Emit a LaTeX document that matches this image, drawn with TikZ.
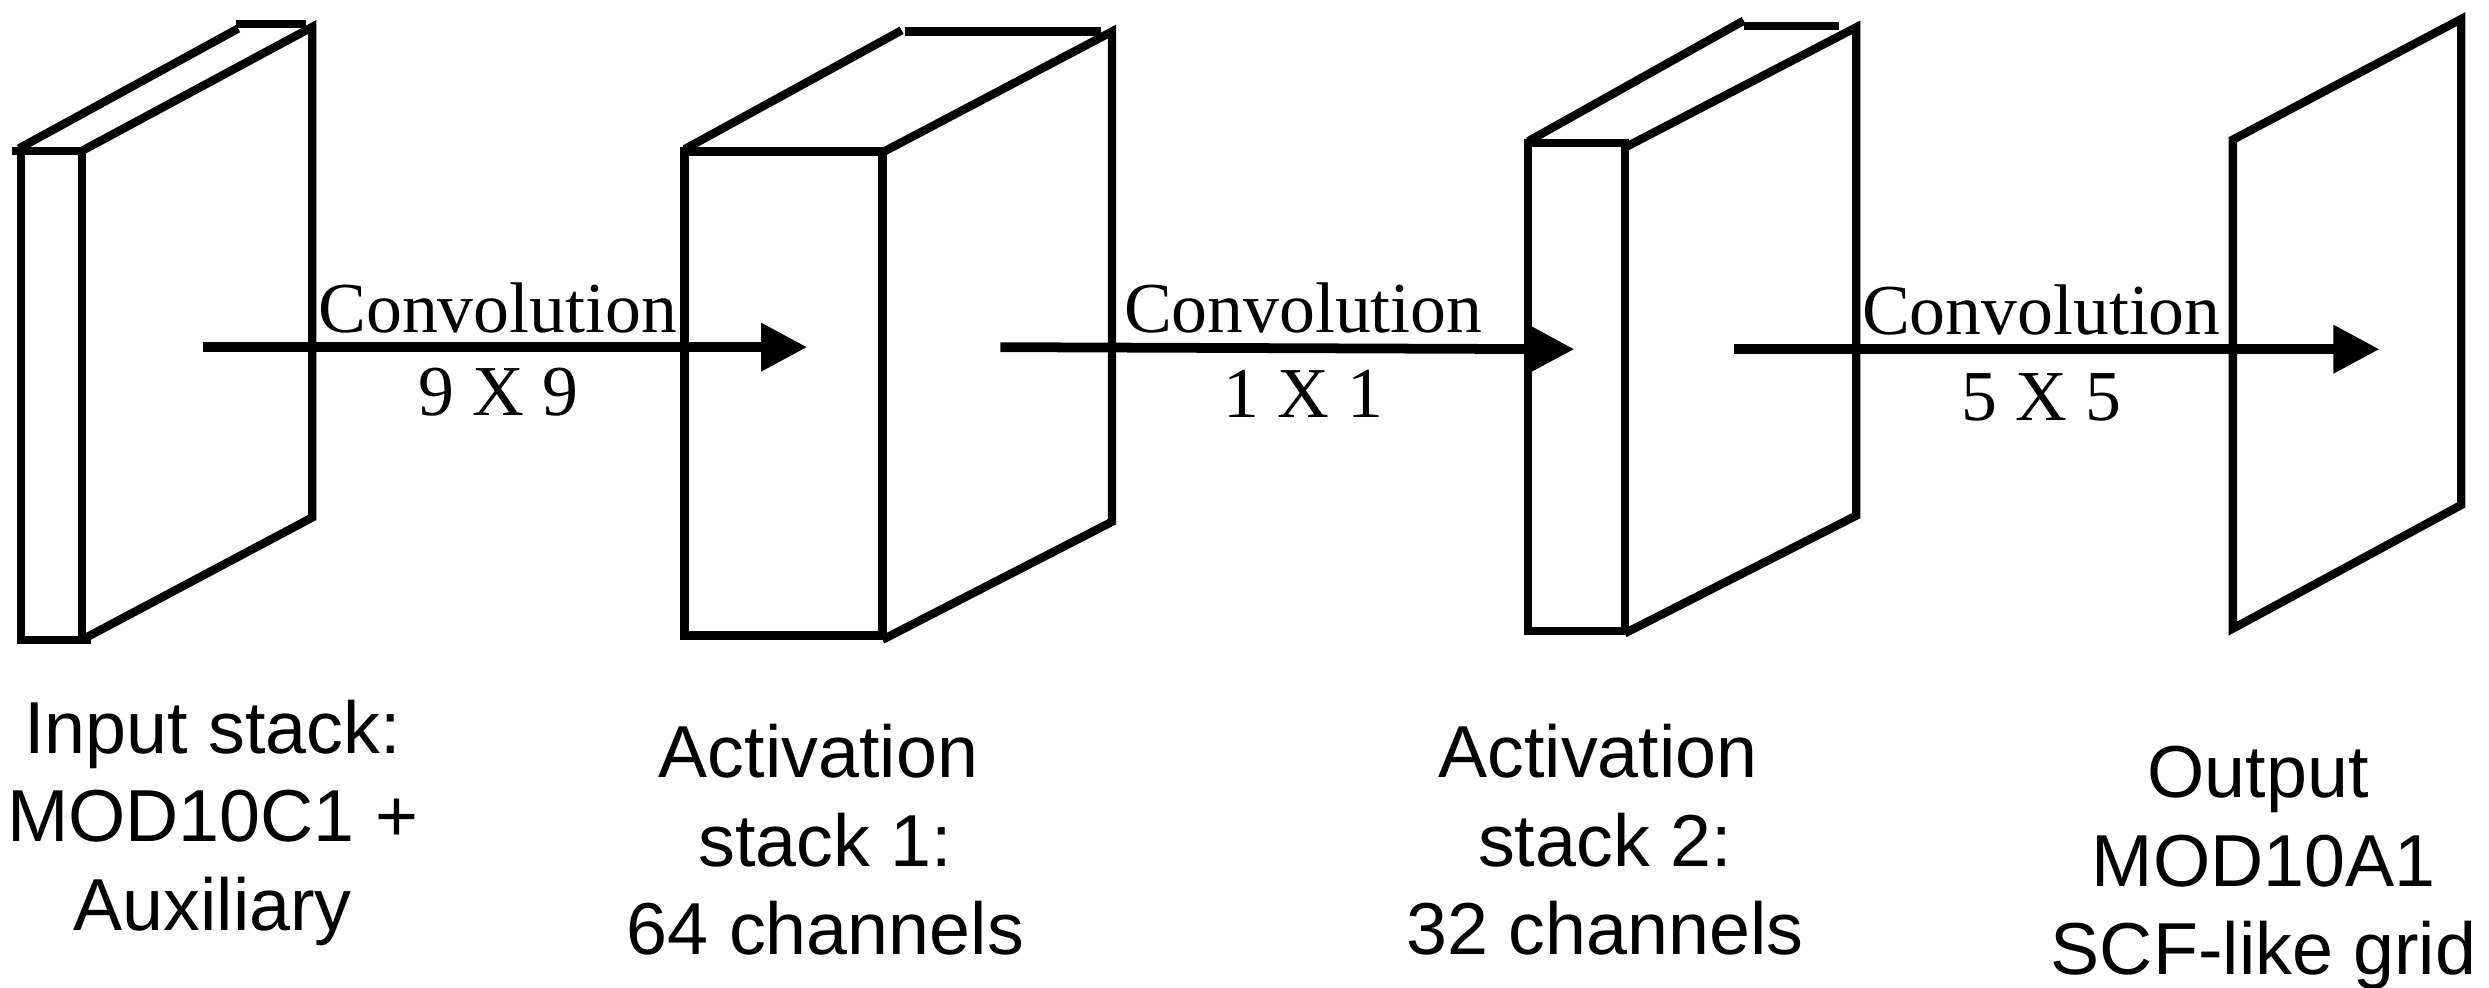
\documentclass[tikz,border=0pt]{standalone}
\usepackage{fontspec}
\setmainfont{Liberation Serif}
\setsansfont{Liberation Sans}
\usetikzlibrary{arrows.meta}
\begin{document}
\begin{tikzpicture}[x=0.02cm,y=-0.02cm,
  boxline/.style={line width=3pt, line join=miter},
  convarrow/.style={line width=3.5pt, -{Triangle[length=0.58cm,width=0.58cm]}},
  convlabel/.style={font=\fontsize{25.7pt}{30pt}\selectfont\rmfamily, inner sep=0pt, anchor=base},
  stacklabel/.style={font=\fontsize{26.4pt}{31.75pt}\selectfont\sffamily, inner sep=0pt, anchor=base, align=center}]
\useasboundingbox (0,0) rectangle (1568,622);

% ---- Box 1: input stack ----
\draw[boxline] (13.3,95) rectangle (51.7,403);
\draw[boxline] (7.3,95) -- (13.3,95);
\draw[boxline] (51.7,403) -- (57.4,403);
\draw[boxline] (12,93.5) -- (150,18);
\draw[boxline] (148.4,15.1) -- (192.7,15.1);
\draw[boxline] (51.7,95) -- (196.7,17) -- (196.7,326) -- (51.7,403);

% ---- Box 2: activation stack 1 ----
\draw[boxline] (431.3,95.4) rectangle (555.9,400.3);
\draw[boxline] (431.3,94) -- (568,19.1);
\draw[boxline] (570,19.9) -- (693.3,19.9);
\draw[boxline] (555.9,96) -- (700.5,19.9) -- (700.5,328.7) -- (555.9,403);

% ---- Box 3: activation stack 2 ----
\draw[boxline] (962.7,90.1) rectangle (1023.5,397.7);
\draw[boxline] (962.7,89) -- (1098.5,13);
\draw[boxline] (1098.5,16.4) -- (1158.5,16.4);
\draw[boxline] (1023.5,93) -- (1169.4,17.2) -- (1169.4,324.8) -- (1023.5,399);

% ---- Output plane ----
\draw[boxline] (1406.6,88) -- (1550.5,12) -- (1550.5,318.1) -- (1406.6,396) -- cycle;

% ---- Arrow end points ----
\coordinate (a1s) at (127.7,218.7);
\coordinate (a1e) at (508.5,218.7);
\coordinate (a2s) at (630.2,218.7);
\coordinate (a2e) at (991.8,220);
\coordinate (a3s) at (1092.4,220);
\coordinate (a3e) at (1499,220);

\draw[convarrow] (a1s) -- (a1e);
\draw[convarrow] (a2s) -- (a2e);
\draw[convarrow] (a3s) -- (a3e);

% ---- Convolution labels ----
\node[convlabel] (c1) at (313.5,209.5) {Convolution};
\node[convlabel] (k1) at (314,262) {9 X 9};
\node[convlabel] (c2) at (821,209.5) {Convolution};
\node[convlabel] (k2) at (821,263) {1 X 1};
\node[convlabel] (c3) at (1286,210.8) {Convolution};
\node[convlabel] (k3) at (1286,265) {5 X 5};

% ---- Stack labels (anchor = baseline of last line) ----
\node[stacklabel] (l1) at (134,586) {Input stack:\\MOD10C1 +\\Auxiliary};
\node[stacklabel] (l2) at (520,601.6) {\hbox{Activation\kern5pt}\\stack 1:\\64 channels};
\node[stacklabel] (l3) at (1011,601.6) {\hbox{Activation\kern5pt}\\stack 2:\\32 channels};
\node[stacklabel] (l4) at (1426,614) {\hbox{Output\kern4pt}\\MOD10A1\\SCF-like grid};
\end{tikzpicture}
\end{document}
